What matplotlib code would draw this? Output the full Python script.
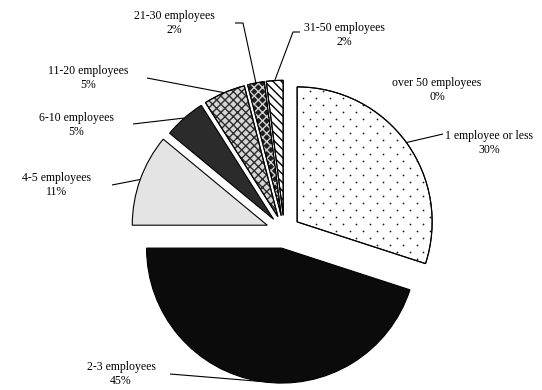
import matplotlib
matplotlib.use("Agg")
import matplotlib.pyplot as plt
from matplotlib.patches import Wedge
import numpy as np

# Share of firms by number of employees
categories = ["over 50 employees", "1 employee or less", "2-3 employees",
              "4-5 employees", "6-10 employees", "11-20 employees",
              "21-30 employees", "31-50 employees"]
shares = [0, 30, 45, 11, 5, 5, 2, 2]

# Slice styling
face_colors = ["white", "white", "#0b0b0b", "#e4e4e4", "#2b2b2b",
               "#d6d6d6", "#1e1e1e", "white"]
hatches = [None, None, None, None, None, "xxxx", "xxxx", "\\\\\\\\"]
hatch_colors = [None, None, None, None, None, "#2e2e2e", "#d0d0d0", "black"]
dotted = [False, True, False, False, False, False, False, False]
explode = [16, 16, 17, 18, 16, 16, 16, 16]

W, H = 542, 390
plt.rcParams["font.family"] = ["Liberation Serif", "DejaVu Serif"]
plt.rcParams["hatch.linewidth"] = 1.0

fig = plt.figure(figsize=(W / 100, H / 100), dpi=100)
ax = fig.add_axes([0, 0, 1, 1])


def P(x, y):
    """Convert a top-left pixel position into axes data coordinates."""
    return (x, H - y)


center = P(284.2, 231.3)
radius = 135

wedges, _ = ax.pie(shares, startangle=90, counterclock=False, explode=explode,
                   radius=radius, center=center, colors=face_colors,
                   wedgeprops=dict(edgecolor="black", linewidth=0.8))
wedges[0].set_visible(False)

# Patterned fills drawn as overlays so the hatch colour is independent of the outline
for w, h, hc, dots in zip(wedges, hatches, hatch_colors, dotted):
    z = w.get_zorder()
    if h is not None:
        ov = Wedge(w.center, w.r, w.theta1, w.theta2, facecolor="none",
                   edgecolor=hc, hatch=h, linewidth=0, zorder=z + 0.1)
        ax.add_patch(ov)
    if dots:
        # sparse staggered dot screen clipped to the slice
        cx, cy = w.center
        pts = []
        row_step, col_step = 7.0, 13.4
        for i, yy in enumerate(np.arange(cy - w.r, cy + w.r, row_step)):
            off = (col_step / 2) * (i % 2)
            for xx in np.arange(cx - w.r + off, cx + w.r, col_step):
                pts.append((xx, yy))
        pts = np.array(pts)
        sc = ax.scatter(pts[:, 0], pts[:, 1], s=1.6, color="#1a1a1a",
                        linewidths=0, zorder=z + 0.1)
        sc.set_clip_path(w)
    if h is not None or dots:
        outline = Wedge(w.center, w.r, w.theta1, w.theta2, facecolor="none",
                        edgecolor="black", linewidth=0.8, zorder=z + 0.2)
        ax.add_patch(outline)

# Label placement and leader-line routing (pixel positions)
label_pos = [(437, 90), (489, 143), (121, 374), (57, 185), (76, 125),
             (88, 78), (174, 23), (344, 35)]
leader_path = [
    None,
    [(443, 134)],
    [(170, 374)],
    [(112, 185)],
    [(133, 124)],
    [(147, 78)],
    [(235, 23), (243, 23)],
    [(300, 32), (293, 32)],
]

for w, name, val, pos, path in zip(wedges, categories, shares, label_pos, leader_path):
    ax.text(*P(*pos), f"{name}\n{val}%", ha="center", va="center",
            fontsize=8.5, linespacing=1.25, color="black")
    if path is None:
        continue
    tm = np.deg2rad((w.theta1 + w.theta2) / 2)
    end = (w.center[0] + w.r * np.cos(tm), w.center[1] + w.r * np.sin(tm))
    pts = [P(*p) for p in path] + [end]
    xs, ys = zip(*pts)
    ax.plot(xs, ys, color="black", linewidth=0.8, zorder=5,
            solid_capstyle="butt")

ax.set_aspect("auto")
ax.set_xlim(0, W)
ax.set_ylim(0, H)
ax.axis("off")

fig.savefig("out.png", dpi=100, facecolor="white")
